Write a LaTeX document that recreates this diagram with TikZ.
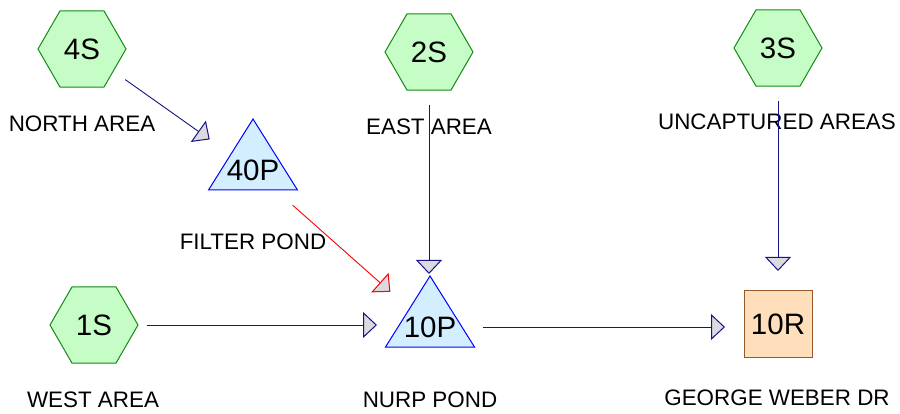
\documentclass[tikz,border=0pt]{standalone}
\usepackage{fontspec}
\setmainfont{Liberation Sans}
\usetikzlibrary{shapes.geometric,arrows.meta,calc}

\definecolor{flowline}{RGB}{20,20,130}
\definecolor{headfill}{RGB}{218,218,224}
\definecolor{hexfill}{RGB}{198,252,198}
\definecolor{hexedge}{RGB}{20,140,20}
\definecolor{pondfill}{RGB}{210,238,255}
\definecolor{pondedge}{RGB}{0,0,255}
\definecolor{reachfill}{RGB}{255,222,188}
\definecolor{reachedge}{RGB}{150,90,40}

\tikzset{
  subcat/.style={regular polygon, regular polygon sides=6, minimum size=88pt,
    inner sep=0pt, draw=hexedge, fill=hexfill, line width=1pt,
    font=\fontsize{29.5}{31}\selectfont},
  pondtext/.style={inner sep=0pt, font=\fontsize{29.5}{31}\selectfont},
  pondtri/.style={draw=pondedge, fill=pondfill, line width=1pt, line join=miter},
  reach/.style={rectangle, minimum width=68pt, minimum height=66pt, inner sep=0pt,
    draw=reachedge, fill=reachfill, line width=1pt,
    font=\fontsize{29.5}{31}\selectfont},
  caption/.style={inner sep=0pt, font=\fontsize{22.4}{24}\selectfont},
  flow/.style={draw=flowline, line width=0.9pt, shorten <=53pt, shorten >=53pt,
    -{Triangle[length=14pt, width=26pt, fill=headfill, line width=1pt]}},
  redflow/.style={flow, draw=red},
}

\begin{document}
\begin{tikzpicture}[x=1pt, y=-1pt]
\useasboundingbox (0,0) rectangle (900,414);

% subcatchments
\node[subcat] (s4) at (82,49) {4S};
\node[subcat] (s2) at (429,52) {2S};
\node[subcat] (s3) at (778,48) {3S};
\node[subcat] (s1) at (94,325) {1S};

% ponds: triangle drawn around the label node
\coordinate (p40c) at (253,170);
\coordinate (p10c) at (430,327);
\draw[pondtri] ($(p40c)+(0,-51)$) -- ($(p40c)+(44.5,20)$) -- ($(p40c)+(-44.5,20)$) -- cycle;
\draw[pondtri] ($(p10c)+(0,-51)$) -- ($(p10c)+(44.5,20)$) -- ($(p10c)+(-44.5,20)$) -- cycle;
\node[pondtext] (p40) at (p40c) {40P};
\node[pondtext] (p10) at (p10c) {10P};

% reach
\node[reach] (r10) at (778,324) {10R};

% captions
\node[caption] (c4) at (82,124) {NORTH AREA};
\node[caption] (c2) at (429,127) {EAST AREA};
\node[caption] (c3) at (777,122) {UNCAPTURED AREAS};
\node[caption] (c40) at (253,242) {FILTER POND};
\node[caption] (c1) at (93,400) {WEST AREA};
\node[caption] (c10p) at (430,400) {NURP POND};
\node[caption] (c10r) at (777,398) {GEORGE WEBER DR};

% flow links
\draw[flow] (s4.center) -- (p40c);
\draw[flow] (s2.center) -- (s2.center |- p10c);
\draw[flow] (s1.center) -- (s1.center -| p10c);
\draw[redflow] (p40c) -- (p10c);
\draw[flow] (p10c) -- (p10c -| r10.center);
\draw[flow] (s3.center) -- (r10.center);
\end{tikzpicture}
\end{document}
